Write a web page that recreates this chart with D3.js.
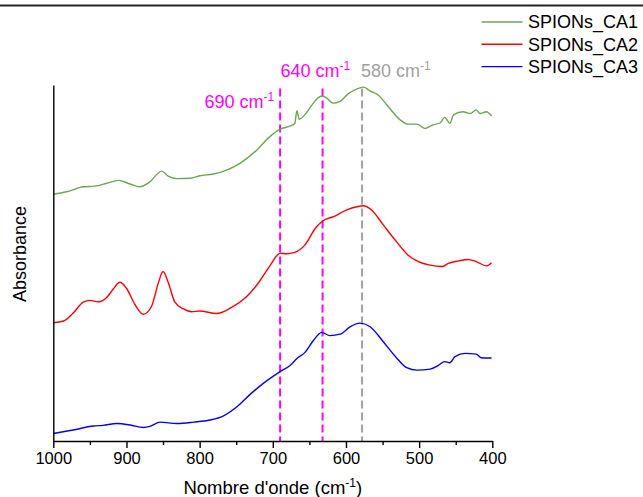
<!DOCTYPE html>
<html>
<head>
<meta charset="utf-8">
<script src="https://cdn.jsdelivr.net/npm/d3@7"></script>
<style>
  body { margin: 0; background: #fff; }
  svg { display: block; font-family: Arial, "Liberation Sans", sans-serif; }
</style>
</head>
<body>
<svg id="chart" width="643" height="497"></svg>
<script>
// ---- data (wavenumber in cm-1, absorbance in arbitrary units, offset curves) ----
const seriesNames = ["SPIONs_CA1", "SPIONs_CA2", "SPIONs_CA3"];
const seriesColors = ["#6aa84f", "#ff0000", "#0000ff"];

const waveCA1 = [1000,982,959,943,927,911,895,882,868,852,843,831,813,800,781,763,745,722,704,690,676,670,667,664,654,642,633,626,618,608,597,588,576,567,556,544,526,515,503,492,481,471,465,458,453,440,430,422,417,408,401];
const absCA1  = [0.693,0.700,0.714,0.716,0.724,0.732,0.722,0.714,0.728,0.758,0.744,0.737,0.738,0.745,0.750,0.761,0.780,0.817,0.855,0.876,0.885,0.892,0.928,0.904,0.922,0.956,0.969,0.963,0.949,0.954,0.975,0.986,0.994,0.983,0.972,0.944,0.902,0.890,0.890,0.878,0.888,0.894,0.909,0.892,0.916,0.925,0.920,0.930,0.920,0.925,0.913];

const waveCA2 = [1000,986,973,959,950,938,927,918,909,900,888,877,866,856,850,843,834,822,811,800,777,758,736,720,704,690,681,670,656,642,632,617,599,585,576,565,549,531,515,501,485,469,460,446,433,422,408,401];
const absCA2  = [0.332,0.337,0.359,0.390,0.395,0.391,0.403,0.427,0.446,0.429,0.382,0.356,0.377,0.447,0.476,0.446,0.391,0.371,0.363,0.365,0.358,0.373,0.405,0.443,0.492,0.527,0.526,0.530,0.551,0.597,0.618,0.630,0.649,0.658,0.661,0.649,0.607,0.560,0.522,0.504,0.494,0.490,0.499,0.506,0.510,0.504,0.492,0.501];

const waveCA3 = [1000,973,945,932,913,895,877,868,854,831,808,786,768,749,731,713,690,676,667,656,645,633,622,608,594,581,567,549,531,517,503,485,474,465,458,451,437,422,415,408,401];
const absCA3  = [0.021,0.031,0.042,0.044,0.049,0.045,0.038,0.041,0.053,0.049,0.053,0.059,0.070,0.096,0.131,0.162,0.195,0.213,0.232,0.249,0.281,0.305,0.296,0.300,0.321,0.331,0.321,0.279,0.234,0.206,0.199,0.202,0.212,0.223,0.220,0.237,0.246,0.244,0.234,0.233,0.233];

const xTicks = [1000, 900, 800, 700, 600, 500, 400];
const xMinorTicks = [950, 850, 750, 650, 550, 450];

const markerWaves  = [690, 632, 578];
const markerLabels = ["690", "640", "580"];
const markerColors = ["#ff00ff", "#ff00ff", "#a0a0a0"];

// ---- layout ----
const svg = d3.select("#chart");
const plot = { left: 53.3, right: 492.3, top: 85, bottom: 441 };

const x = d3.scaleLinear().domain([1000, 400]).range([plot.left, plot.right]);
const y = d3.scaleLinear().domain([0, 1]).range([plot.bottom, plot.top]);

// top border line
svg.append("line")
  .attr("x1", 0).attr("x2", 643).attr("y1", 5.5).attr("y2", 5.5)
  .attr("stroke", "#222").attr("stroke-width", 2);

// dashed marker lines
const markerTop = 0.99;
markerWaves.forEach((w, i) => {
  svg.append("line")
    .attr("x1", x(w)).attr("x2", x(w))
    .attr("y1", y(markerTop)).attr("y2", y(0))
    .attr("stroke", markerColors[i])
    .attr("stroke-width", 2)
    .attr("stroke-dasharray", "8,4");
});

// curves
const allSeries = [
  { w: waveCA1, a: absCA1 },
  { w: waveCA2, a: absCA2 },
  { w: waveCA3, a: absCA3 }
];
const line = d3.line()
  .x(d => x(d[0]))
  .y(d => y(d[1]))
  .curve(d3.curveMonotoneX);

allSeries.forEach((s, i) => {
  const pts = s.w.map((w, k) => [w, s.a[k]]);
  svg.append("path")
    .datum(pts)
    .attr("fill", "none")
    .attr("stroke", seriesColors[i])
    .attr("stroke-width", 1.4)
    .attr("stroke-linejoin", "round")
    .attr("d", line);
});

// x axis
const xAxis = d3.axisBottom(x)
  .tickValues(xTicks)
  .tickFormat(d3.format("d"))
  .tickSize(7)
  .tickSizeOuter(0);
const gx = svg.append("g")
  .attr("transform", `translate(0,${plot.bottom})`)
  .call(xAxis);
gx.select(".domain").attr("stroke", "#000").attr("stroke-width", 1.4);
gx.selectAll(".tick line").attr("stroke", "#000").attr("stroke-width", 1.4);
gx.selectAll(".tick text")
  .attr("fill", "#000")
  .attr("font-size", "16.5px")
  .attr("font-family", "Arial, 'Liberation Sans', sans-serif")
  .attr("y", 11);

const xMinor = d3.axisBottom(x).tickValues(xMinorTicks).tickFormat("").tickSize(4).tickSizeOuter(0);
const gxm = svg.append("g")
  .attr("transform", `translate(0,${plot.bottom})`)
  .call(xMinor);
gxm.select(".domain").remove();
gxm.selectAll(".tick line").attr("stroke", "#000").attr("stroke-width", 1.4);

// y axis (no ticks)
const yAxis = d3.axisLeft(y).tickValues([]).tickSizeOuter(0);
const gy = svg.append("g").attr("transform", `translate(${plot.left},0)`).call(yAxis);
gy.select(".domain").attr("stroke", "#000").attr("stroke-width", 1.4);

// axis titles
const xTitle = svg.append("text")
  .attr("x", (plot.left + plot.right) / 2)
  .attr("y", 494)
  .attr("text-anchor", "middle")
  .attr("font-size", "18.5px")
  .attr("fill", "#000");
xTitle.append("tspan").text("Nombre d'onde (cm");
xTitle.append("tspan").attr("dy", -7).attr("font-size", "12px").text("-1");
xTitle.append("tspan").attr("dy", 7).text(")");

svg.append("text")
  .attr("transform", "translate(26,254) rotate(-90)")
  .attr("text-anchor", "middle")
  .attr("font-size", "18px")
  .attr("fill", "#000")
  .text("Absorbance");

// marker labels
const labelPos = [
  { dx: -6, y: 108, anchor: "end" },
  { dx: -42, y: 77, anchor: "start" },
  { dx: -1, y: 77, anchor: "start" }
];
markerLabels.forEach((lab, i) => {
  const t = svg.append("text")
    .attr("x", x(markerWaves[i]) + labelPos[i].dx)
    .attr("y", labelPos[i].y)
    .attr("text-anchor", labelPos[i].anchor)
    .attr("font-size", "18px")
    .attr("fill", markerColors[i]);
  t.append("tspan").text(lab + " cm");
  t.append("tspan").attr("dy", -7).attr("font-size", "12px").text("-1");
});

// legend
const legend = svg.append("g");
seriesNames.forEach((name, i) => {
  const ly = 22 + i * 22.3;
  legend.append("line")
    .attr("x1", 481.5).attr("x2", 522.5)
    .attr("y1", ly).attr("y2", ly)
    .attr("stroke", seriesColors[i]).attr("stroke-width", 1.4);
  legend.append("text")
    .attr("x", 528).attr("y", ly + 6.3)
    .attr("font-size", "18px")
    .attr("fill", "#000")
    .text(name);
});
</script>
</body>
</html>
